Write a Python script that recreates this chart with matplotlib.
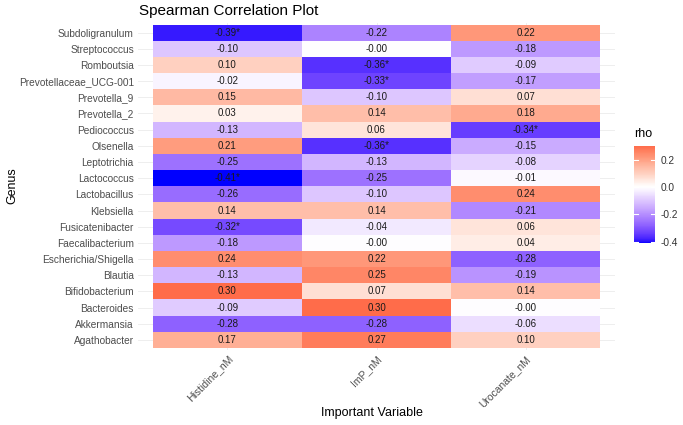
import numpy as np
import matplotlib
matplotlib.use("Agg")
import matplotlib.pyplot as plt
from matplotlib.colors import LinearSegmentedColormap, Normalize

plt.rcParams['font.family'] = ['Liberation Sans', 'DejaVu Sans']

genus = ["Subdoligranulum", "Streptococcus", "Romboutsia", "Prevotellaceae_UCG-001",
         "Prevotella_9", "Prevotella_2", "Pediococcus", "Olsenella", "Leptotrichia",
         "Lactococcus", "Lactobacillus", "Klebsiella", "Fusicatenibacter",
         "Faecalibacterium", "Escherichia/Shigella", "Blautia", "Bifidobacterium",
         "Bacteroides", "Akkermansia", "Agathobacter"]
variables = ["Histidine_nM", "ImP_nM", "Urocanate_nM"]

histidine = [-0.39, -0.10, 0.10, -0.02, 0.15, 0.03, -0.13, 0.21, -0.25, -0.41,
             -0.26, 0.14, -0.32, -0.18, 0.24, -0.13, 0.30, -0.09, -0.28, 0.17]
imp = [-0.22, -0.004, -0.36, -0.33, -0.10, 0.14, 0.06, -0.36, -0.13, -0.25,
       -0.10, 0.14, -0.04, -0.004, 0.22, 0.25, 0.07, 0.30, -0.28, 0.27]
urocanate = [0.22, -0.18, -0.09, -0.17, 0.07, 0.18, -0.34, -0.15, -0.08, -0.01,
             0.24, -0.21, 0.06, 0.04, -0.28, -0.19, 0.14, -0.004, -0.06, 0.10]

sig_histidine = [1, 0, 0, 0, 0, 0, 0, 0, 0, 1, 0, 0, 1, 0, 0, 0, 0, 0, 0, 0]
sig_imp = [0, 0, 1, 1, 0, 0, 0, 1, 0, 0, 0, 0, 0, 0, 0, 0, 0, 0, 0, 0]
sig_urocanate = [0, 0, 0, 0, 0, 0, 1, 0, 0, 0, 0, 0, 0, 0, 0, 0, 0, 0, 0, 0]


# ggplot-style gradient2 (blue - white - red), interpolated in Lab space
def srgb_to_lab(rgb):
    rgb = np.asarray(rgb, float)
    lin = np.where(rgb <= 0.04045, rgb / 12.92, ((rgb + 0.055) / 1.055) ** 2.4)
    m = np.array([[0.4124, 0.3576, 0.1805], [0.2126, 0.7152, 0.0722], [0.0193, 0.1192, 0.9505]])
    xyz = lin @ m.T / np.array([0.95047, 1.0, 1.08883])
    f = np.where(xyz > 0.008856, np.cbrt(xyz), 7.787 * xyz + 16 / 116)
    return np.stack([116 * f[..., 1] - 16, 500 * (f[..., 0] - f[..., 1]), 200 * (f[..., 1] - f[..., 2])], -1)


def lab_to_srgb(lab):
    lab = np.asarray(lab, float)
    fy = (lab[..., 0] + 16) / 116
    fx = fy + lab[..., 1] / 500
    fz = fy - lab[..., 2] / 200
    f = np.stack([fx, fy, fz], -1)
    xyz = np.where(f ** 3 > 0.008856, f ** 3, (f - 16 / 116) / 7.787) * np.array([0.95047, 1.0, 1.08883])
    m = np.array([[3.2406, -1.5372, -0.4986], [-0.9689, 1.8758, 0.0415], [0.0557, -0.2040, 1.0570]])
    lin = xyz @ m.T
    rgb = np.where(lin <= 0.0031308, 12.92 * lin, 1.055 * np.clip(lin, 0, None) ** (1 / 2.4) - 0.055)
    return np.clip(rgb, 0, 1)


lab_lo = srgb_to_lab([0, 0, 1])
lab_mid = srgb_to_lab([1, 1, 1])
lab_hi = srgb_to_lab([1, 0, 0])
t = np.linspace(0, 1, 128)[:, None]
ramp = np.vstack([lab_lo + (lab_mid - lab_lo) * t, lab_mid + (lab_hi - lab_mid) * t])
cmap = LinearSegmentedColormap.from_list("gradient2", lab_to_srgb(ramp))

data = np.column_stack([histidine, imp, urocanate])
sig = np.column_stack([sig_histidine, sig_imp, sig_urocanate])
lim = np.abs(data).max()
norm = Normalize(-lim, lim)

W, H = 683, 425
fig = plt.figure(figsize=(W / 100, H / 100), dpi=100)
ax = fig.add_axes([138 / W, 1 - 349.6 / H, (615 - 138) / W, (349.6 - 22.9) / H])

n = len(genus)
ypos = np.arange(n)[::-1]
for y in ypos:
    ax.axhline(y, color='#ebebeb', lw=0.6, zorder=0)
for x in range(3):
    ax.axvline(x, color='#ebebeb', lw=0.6, zorder=0)

xe = np.arange(4) - 0.5
ye = np.arange(n + 1) - 0.5
ax.pcolormesh(xe, ye, data[::-1], cmap=cmap, norm=norm, zorder=1)

for i in range(n):
    for j in range(3):
        lab = f"{data[i, j]:.2f}" + ("*" if sig[i, j] else "")
        ax.text(j, ypos[i], lab, ha='center', va='center', fontsize=7, color='#1a1a1a', zorder=2)

ax.set_xlim(-0.6, 2.6)
ax.set_ylim(-0.6, n - 0.4)
ax.set_yticks(ypos)
ax.set_yticklabels(genus, fontsize=7.3, color='#4d4d4d')
ax.set_xticks(range(3))
ax.set_xticklabels(variables, fontsize=7.5, color='#4d4d4d', rotation=45,
                   ha='right', va='top', rotation_mode='anchor')
ax.tick_params(length=0, pad=3)
for s in ax.spines.values():
    s.set_visible(False)
fig.text(372 / W, 1 - 413 / H, "Important Variable", fontsize=9, ha='center', va='center')
fig.text(12 / W, 1 - 186 / H, "Genus", fontsize=9, ha='center', va='center', rotation=90)
fig.text(139 / W, 1 - 11 / H, "Spearman Correlation Plot", fontsize=11, ha='left', va='center')

# colour bar legend
cax = fig.add_axes([634 / W, 1 - 243 / H, 21 / W, (243 - 146) / H])
vals = np.linspace(data.min(), data.max(), 200)
cax.pcolormesh([0, 1], np.linspace(data.min(), data.max(), 201), vals[:, None], cmap=cmap, norm=norm)
cax.set_xlim(0, 1)
cax.set_ylim(data.min(), data.max())
cbar_ticks = [-0.4, -0.2, 0.0, 0.2]
for tk in cbar_ticks:
    cax.plot([0, 0.2], [tk, tk], color='white', lw=0.8)
    cax.plot([0.8, 1], [tk, tk], color='white', lw=0.8)
cax.set_xticks([])
cax.yaxis.tick_right()
cax.set_yticks(cbar_ticks)
cax.set_yticklabels([f"{tk:.1f}" for tk in cbar_ticks], fontsize=7.3, color='#333333')
cax.tick_params(length=0, pad=4)
for s in cax.spines.values():
    s.set_visible(False)
fig.text(634 / W, 1 - 134 / H, "rho", fontsize=9, va='center', ha='left')

fig.savefig("out.png", dpi=100)
